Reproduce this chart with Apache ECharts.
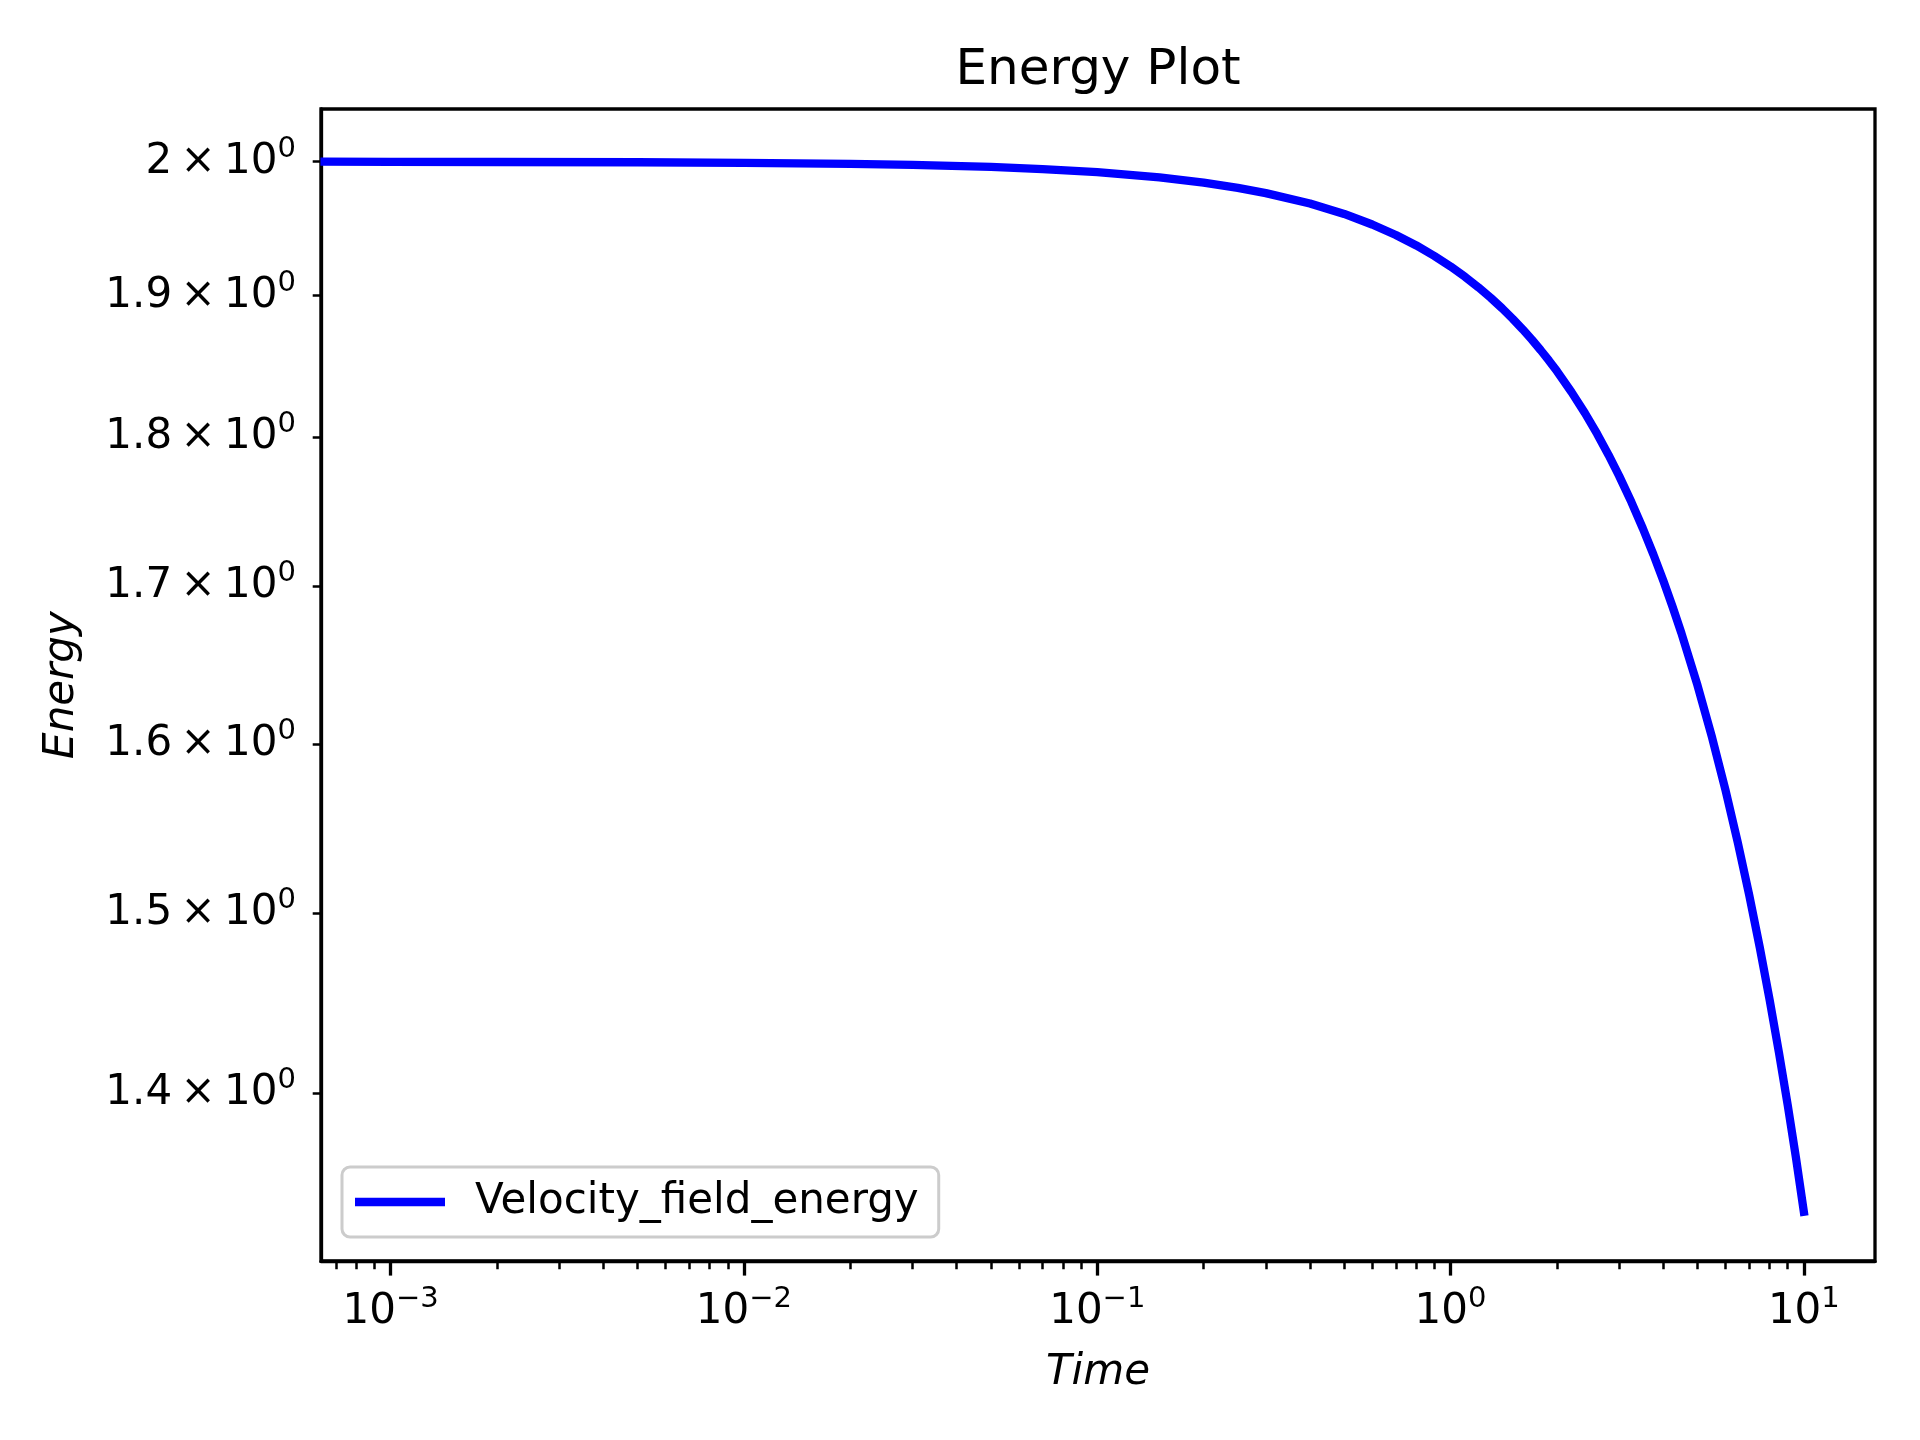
<!DOCTYPE html>
<html>
<head>
<meta charset="utf-8">
<script src="https://cdn.jsdelivr.net/npm/echarts@6/dist/echarts.min.js"></script>
<style>
html,body{margin:0;padding:0;background:#fff;}
#chart{width:1920px;height:1440px;}
</style>
</head>
<body>
<div id="chart"></div>
<script>
// Data
var time = [0.00065, 0.001, 0.002, 0.005, 0.01, 0.02, 0.03, 0.05, 0.07, 0.1, 0.15, 0.2, 0.25, 0.3, 0.4, 0.5, 0.6, 0.7, 0.8, 0.9, 1, 1.1, 1.2, 1.3, 1.4, 1.5, 1.6, 1.7, 1.8, 1.9, 2, 2.2, 2.4, 2.6, 2.8, 3, 3.25, 3.5, 3.75, 4, 4.25, 4.5, 5, 5.5, 6, 6.5, 7, 7.5, 8, 8.5, 9, 9.5, 10];
var energy = [2.0000, 1.9999, 1.9998, 1.9996, 1.9992, 1.9984, 1.9976, 1.9960, 1.9944, 1.9920, 1.9880, 1.9840, 1.9801, 1.9761, 1.9682, 1.9604, 1.9525, 1.9447, 1.9369, 1.9291, 1.9214, 1.9137, 1.9060, 1.8984, 1.8908, 1.8832, 1.8757, 1.8682, 1.8607, 1.8533, 1.8459, 1.8311, 1.8165, 1.8020, 1.7876, 1.7733, 1.7556, 1.7381, 1.7208, 1.7036, 1.6866, 1.6698, 1.6366, 1.6041, 1.5723, 1.5411, 1.5105, 1.4805, 1.4510, 1.4220, 1.3937, 1.3657, 1.3378];
var seriesName = 'Velocity_field_energy';
var xMajorTicks = [0.001, 0.01, 0.1, 1, 10];
var xMajorExponents = ['\u22123', '\u22122', '\u22121', '0', '1'];
var xMinorTicks = [0.0007, 0.0008, 0.0009,
  0.002, 0.003, 0.004, 0.005, 0.006, 0.007, 0.008, 0.009,
  0.02, 0.03, 0.04, 0.05, 0.06, 0.07, 0.08, 0.09,
  0.2, 0.3, 0.4, 0.5, 0.6, 0.7, 0.8, 0.9,
  2, 3, 4, 5, 6, 7, 8, 9];
var yTicks = [1.4, 1.5, 1.6, 1.7, 1.8, 1.9, 2.0];
var yMantissas = ['1.4', '1.5', '1.6', '1.7', '1.8', '1.9', '2'];
var xRange = [0.000635, 15.9];
var yRange = [1.3128, 2.0408];

var FONT = 'DejaVu Sans';
var points = time.map(function (t, i) { return [t, energy[i]]; });

function nearestIndex(v, ticks) {
  var best = 0, bd = Infinity;
  for (var i = 0; i < ticks.length; i++) {
    var d = Math.abs(Math.log(v) - Math.log(ticks[i]));
    if (d < bd) { bd = d; best = i; }
  }
  return best;
}
var richStyle = {
  b: {fontFamily: FONT, fontSize: 42, lineHeight: 54, color: '#000', verticalAlign: 'middle'},
  s: {fontFamily: FONT, fontSize: 29, lineHeight: 29, color: '#000', verticalAlign: 'top'}
};

var chart = echarts.init(document.getElementById('chart'), null, {renderer: 'canvas'});
chart.setOption({
  animation: false,
  backgroundColor: '#ffffff',
  title: {
    text: 'Energy Plot',
    left: 1098,
    top: 46,
    padding: 0,
    textAlign: 'center',
    textStyle: {fontFamily: FONT, fontSize: 50, fontWeight: 'normal', color: '#000'}
  },
  legend: {
    left: 342,
    top: 1167,
    orient: 'vertical',
    padding: [14, 20, 14, 13],
    backgroundColor: '#ffffff',
    borderColor: '#cccccc',
    borderWidth: 3,
    borderRadius: 8,
    itemWidth: 90,
    itemHeight: 8.3,
    icon: 'rect',
    textStyle: {fontFamily: FONT, fontSize: 42, color: '#000', padding: [0, 0, 0, 25]},
    data: [seriesName]
  },
  grid: {
    left: 321, right: 45, top: 109, bottom: 179,
    show: true, borderColor: '#000', borderWidth: 3.3,
    containLabel: false
  },
  xAxis: [{
    type: 'log', logBase: 10,
    min: xRange[0], max: xRange[1],
    position: 'bottom',
    name: 'Time', nameLocation: 'middle', nameGap: 91,
    nameTextStyle: {fontFamily: FONT, fontSize: 42, fontStyle: 'italic', color: '#000'},
    axisLine: {show: true, lineStyle: {color: '#000', width: 3.3}},
    axisTick: {show: true, customValues: xMajorTicks, length: 14.6, lineStyle: {color: '#000', width: 3.3}},
    axisLabel: {show: true, customValues: xMajorTicks, margin: 24, rich: richStyle,
      formatter: function (v) { return '{b|10}{s|' + xMajorExponents[nearestIndex(v, xMajorTicks)] + '}'; }},
    splitLine: {show: false},
    minorTick: {show: false}
  }, {
    type: 'log', logBase: 10,
    min: xRange[0], max: xRange[1],
    position: 'bottom',
    axisLine: {show: false},
    axisTick: {show: true, customValues: xMinorTicks, length: 8.3, lineStyle: {color: '#000', width: 2.5}},
    axisLabel: {show: false},
    splitLine: {show: false}
  }],
  yAxis: {
    type: 'log', logBase: 10,
    min: yRange[0], max: yRange[1],
    name: 'Energy', nameLocation: 'middle', nameGap: 238,
    nameTextStyle: {fontFamily: FONT, fontSize: 42, fontStyle: 'italic', color: '#000'},
    axisLine: {show: true, lineStyle: {color: '#000', width: 3.3}},
    axisTick: {show: true, customValues: yTicks, length: 8.3, lineStyle: {color: '#000', width: 2.5}},
    axisLabel: {show: true, customValues: yTicks, margin: 25, rich: richStyle,
      formatter: function (v) { return '{b|' + yMantissas[nearestIndex(v, yTicks)] + '\u2009\u00D7\u200910}{s|0}'; }},
    splitLine: {show: false},
    minorTick: {show: false}
  },
  series: [{
    name: seriesName,
    type: 'line',
    xAxisIndex: 0,
    data: points,
    showSymbol: false,
    symbol: 'none',
    smooth: false,
    clip: true,
    lineStyle: {color: '#0000ff', width: 8.3, join: 'round', cap: 'square'},
    itemStyle: {color: '#0000ff'}
  }]
});
</script>
</body>
</html>
